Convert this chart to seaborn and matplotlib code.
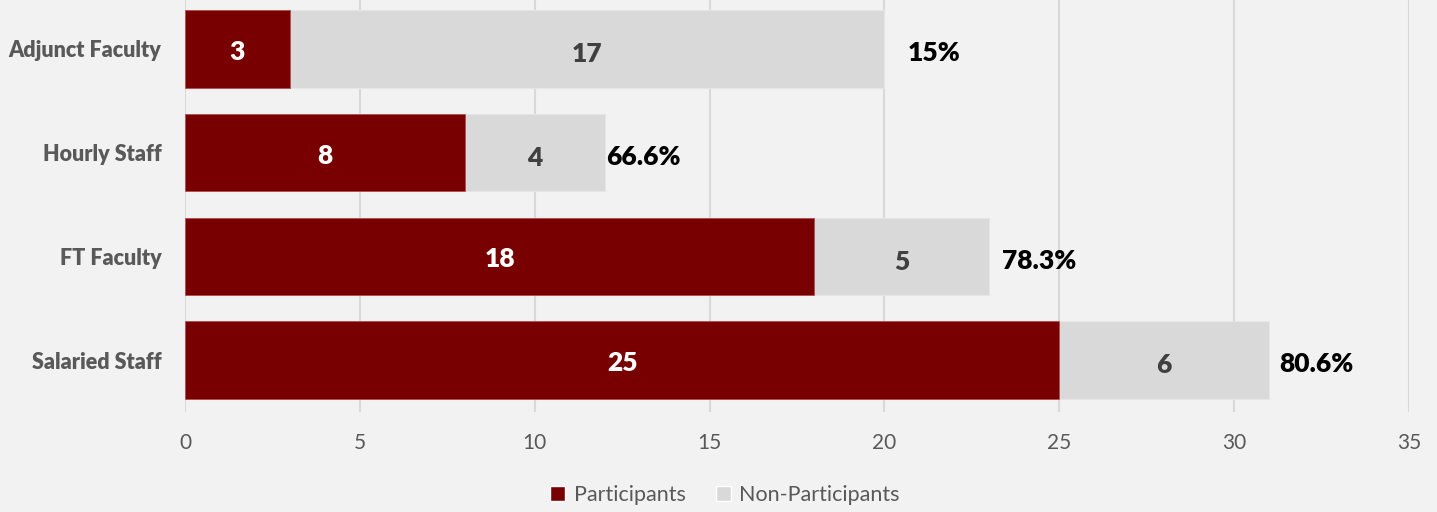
import matplotlib
matplotlib.use("Agg")
import matplotlib.pyplot as plt
from matplotlib.patches import Patch
import seaborn as sns
import pandas as pd

# Survey participation by employee group
groups = ["Adjunct Faculty", "Hourly Staff", "FT Faculty", "Salaried Staff"]
participants = [3, 8, 18, 25]
non_participants = [17, 4, 5, 6]
rate_labels = ["15%", "66.6%", "78.3%", "80.6%"]
x_ticks = [0, 5, 10, 15, 20, 25, 30, 35]

# horizontal nudges (points) of the rate labels past each bar end
rate_offsets = [17, 1, 9, 7]

RED = "#780000"
GRAY = "#d9d9d9"
BG = "#f2f2f2"
TXT = "#595959"

sns.set_theme(style="white")
plt.rcParams["font.family"] = ["Lato", "DejaVu Sans"]

df = pd.DataFrame({
    "group": groups,
    "participants": participants,
    "non_participants": non_participants,
})
df["total"] = df["participants"] + df["non_participants"]

fig = plt.figure(figsize=(14.37, 5.12), dpi=100, facecolor=BG)
ax = fig.add_axes([185 / 1437, 1 - 412 / 512, (1409 - 185) / 1437, 415 / 512])
ax.set_facecolor(BG)

sns.barplot(data=df, y="group", x="total", order=groups, color=GRAY,
            width=0.745, saturation=1, edgecolor="#e6e6e6", linewidth=0.8,
            ax=ax, zorder=2)
sns.barplot(data=df, y="group", x="participants", order=groups, color=RED,
            width=0.745, saturation=1, edgecolor="#b05050", linewidth=0.6,
            ax=ax, zorder=3)

gray_bars, red_bars = ax.containers[0], ax.containers[1]

# segment values
for bar, v in zip(red_bars, participants):
    ax.text(bar.get_x() + bar.get_width() / 2, bar.get_y() + bar.get_height() / 2 + 0.03,
            str(v), ha="center", va="center", color="white",
            fontsize=19, fontweight="heavy", zorder=4)
for bar, p, v in zip(gray_bars, participants, non_participants):
    ax.text(p + v / 2, bar.get_y() + bar.get_height() / 2 + 0.05,
            str(v), ha="center", va="center", color="#404040",
            fontsize=19, fontweight="heavy", zorder=4)

# participation rate next to each bar
for bar, lab, off in zip(gray_bars, rate_labels, rate_offsets):
    ax.annotate(lab, xy=(bar.get_width(), bar.get_y() + bar.get_height() / 2 + 0.04),
                xytext=(off, 0), textcoords="offset points",
                ha="left", va="center", color="black",
                fontsize=19, fontweight="heavy")

ax.set_xlim(0, 35)
ax.set_xticks(x_ticks)
ax.set_xticklabels([str(t) for t in x_ticks], color=TXT, fontsize=15)
ax.tick_params(axis="x", length=0, pad=15)
ax.tick_params(axis="y", length=0, pad=17)
for lbl in ax.get_yticklabels():
    lbl.set_color(TXT)
    lbl.set_fontsize(15.5)
    lbl.set_fontweight("heavy")
ax.set_xlabel("")
ax.set_ylabel("")
ax.grid(axis="x", color="#d9d9d9", linewidth=1.5, zorder=0)
ax.set_axisbelow(True)
for s in ax.spines.values():
    s.set_visible(False)

handles = [Patch(facecolor=RED, label="Participants"),
           Patch(facecolor=GRAY, label="Non-Participants")]
fig.legend(handles=handles, loc="center", bbox_to_anchor=(725 / 1437, 1 - 495 / 512),
           ncol=2, frameon=False, fontsize=15.5, labelcolor=TXT,
           handlelength=0.7, handleheight=0.7, handletextpad=0.4, columnspacing=1.4)

fig.savefig("out.png", dpi=100, facecolor=BG)
